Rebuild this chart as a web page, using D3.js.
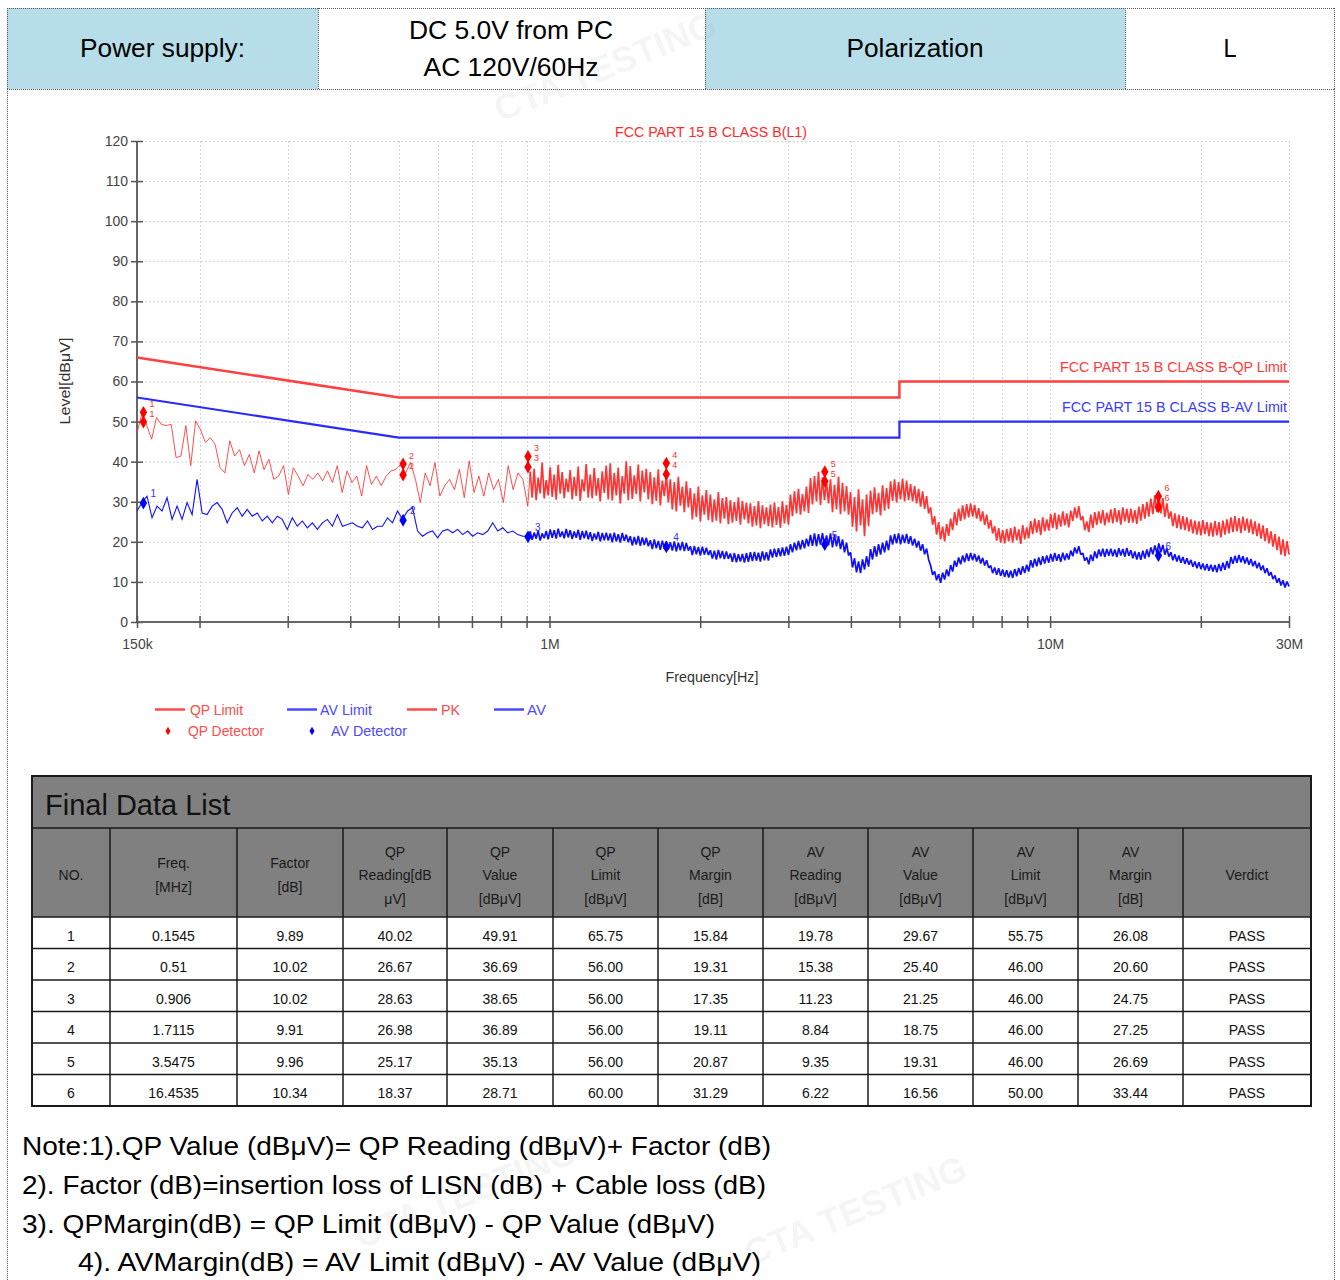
<!DOCTYPE html>
<html><head><meta charset="utf-8">
<script src="https://cdn.jsdelivr.net/npm/d3@7"></script>
<style>
html,body{margin:0;padding:0;background:#fff;}
svg{display:block;}
</style></head>
<body><svg id="c" width="1340" height="1280"></svg>
<script>
// ---------------- DATA ----------------
const headerLeftLabel = "Power supply:";
const headerSupply = ["DC 5.0V from PC", "AC 120V/60Hz"];
const headerPolLabel = "Polarization";
const headerPolValue = "L";

const chartTitle = "FCC PART 15 B CLASS B(L1)";
const yLabel = "Level[dBμV]";
const xLabel = "Frequency[Hz]";
const yTicks = [0,10,20,30,40,50,60,70,80,90,100,110,120];
const xTickFreqs = [0.15e6,0.2e6,0.3e6,0.4e6,0.5e6,0.6e6,0.7e6,0.8e6,0.9e6,1e6,2e6,3e6,4e6,5e6,6e6,7e6,8e6,9e6,10e6,20e6,30e6];
const xTickLabelFreqs = [0.15e6, 1e6, 10e6, 30e6];
const xTickLabelText = ["150k", "1M", "10M", "30M"];

// limit lines (MHz, dBμV)
const limitFreqMHz = [0.15, 0.5, 5, 5, 30];
const qpLimitLevel = [66, 56, 56, 60, 60];
const avLimitLevel = [56, 46, 46, 50, 50];
const qpLimitLabel = "FCC PART 15 B CLASS B-QP Limit";
const avLimitLabel = "FCC PART 15 B CLASS B-AV Limit";

// sweep segments (MHz)
const sparseStartMHz = 0.15, sparseStopMHz = 0.905;
const denseStartMHz = 0.915, denseStopMHz = 30;

const pkSparse = [47.2,52,49,45.6,51,49.3,49,49.3,41,41.4,
49,39,50.2,48,44.8,46,44.3,38.5,37.2,45.2,
41.4,43,39,41.8,37.2,42.7,38,40.6,35.6,36.4,
39,31.8,38.5,36.4,34,36.8,35.6,37.2,35.2,37.7,
34.8,39,32.3,37.7,34.8,36.4,31.4,39,34.3,36.4,
34,36.4,37.7,38.1,39.3,37.2,39.8,35.6,29.8,37.2,
34,39.8,31.4,34,35.6,33,38.1,31,40.2,32.3,
36.4,31.4,37.2,33,35.6,29.8,39,33,37.2,35.6,28.9];

const avSparse = [27.7,29.8,31.4,26,28.9,27.7,31,25.6,28.9,25.6,
29.8,26.8,35.6,27.2,26.8,28.9,29.8,28.1,24.75,27.2,
28.5,26.4,28.1,26.4,27.2,25.2,26.4,24.75,26.4,25.6,
23.1,26,23.9,25.2,23.5,24.75,23.1,24.75,25.6,23.9,
26.8,23.9,24.3,24.75,23.9,23.5,25.2,23.1,23.9,23.9,
26,24.75,27.7,25.6,27.7,28.5,22.7,21.4,22.25,22.7,
21,22.7,23.1,22.25,23.1,21.8,22.7,21.4,22.25,21.8,
22.7,24.75,22.7,23.5,22.25,22.7,21.8,21.4,21.4];

const pkDense = [
37.5,31,38.2,30.4,36,32.1,39.8,30.8,35.4,31.6,
38.6,31.2,36.8,30.5,39.2,32,37.4,30.9,35.8,32.4,
37.9,30.6,36.2,31.4,38.8,30.2,35.6,32.6,39.4,31,
36.8,30.8,38.4,31.5,35.9,30.1,37.6,32.2,39,30.6,
39.6,30.3,37.2,31.6,38.5,29.6,36.4,32,40.1,30.4,
38.9,30.7,36.6,31.9,39.3,30.1,37.8,32.3,38.2,30.6,
37.4,29.4,36.1,30.2,38.1,29.1,35.3,31.4,36.9,29.8,
35.6,28.1,34.9,27.6,36.2,29,33.8,27.4,35.1,28.6,
33.4,25.6,32.1,26.2,33.8,25.1,31.6,26.8,32.9,25.4,
31.8,24.9,30.6,25.3,32.4,24.6,30.9,25.8,31.2,24.4,
30.4,24.8,29.9,25.2,31.1,24.3,30.2,25.6,29.7,24.6,
29.6,23.8,28.9,24.1,30.2,23.4,29.1,24.4,28.6,23.9,
29.3,23.6,29.8,24.2,28.7,23.5,30.1,24.6,29.2,24.3,
31.8,26.4,32.6,27.1,33.2,26.8,31.9,27.6,33.8,27.2,
35.9,29.3,36.4,30.1,37.5,29.2,36.1,30.4,35.2,29.6,
35.6,27.4,34.2,28.1,36.3,26.9,34.7,27.6,33.9,26.8,
32.4,23.8,31.2,22.6,33.1,24.1,30.6,21.4,31.8,23.9,
32.8,26.9,33.6,27.4,32.2,26.6,34.1,27.8,33.4,28.2,
35.1,30.2,35.6,29.8,34.9,30.6,35.8,30.1,35.3,30.4,
34.4,30.1,33.9,29.6,33.2,28.8,32.6,28.2,31.4,27.1,
28.6,24.3,26.4,21.8,24.9,20.6,23.8,20.1,24.4,21.5,
25.8,22.9,27.4,24.1,28.3,25.2,29.1,25.6,29.4,26.1,
29.6,26.3,29.2,25.8,28.4,25.1,27.6,24.2,26.8,23.3,
25.4,22.1,23.9,20.3,23.4,19.8,22.9,19.6,23.2,20.1,
23.4,19.8,23.8,20.4,23.1,19.5,24.2,20.6,23.6,20.9,
25.2,21.9,25.8,22.3,25.4,21.7,26.1,22.6,25.6,22.8,
26.9,23.4,27.2,23.1,26.8,23.8,27.6,24.1,27.1,23.6,
27.8,25.2,28.6,25.9,28.9,25.4,26.4,22.9,25.1,22.4,
26.8,23.4,27.4,24.2,27.6,24.6,27.9,24.1,27.3,24.8,
28.1,24.6,28.4,24.9,27.9,24.3,28.6,25.1,28.2,24.7,
28.3,24.8,27.9,24.5,28.8,25.3,29.4,25.8,29.9,26.3,
30.8,26.9,31.6,27.4,32.2,27.1,30.9,26.2,29.6,25.8,
27.6,23.9,27.1,23.4,26.8,23.1,26.4,22.9,26.1,22.6,
25.6,22.1,25.3,21.8,25.1,21.6,25.4,21.9,24.9,21.4,
24.8,21.3,25.2,21.6,24.9,21.1,25.3,21.8,25.6,22.1,
26.1,22.4,26.4,22.6,25.9,22.2,26.3,22.8,25.8,22.3,
25.6,21.9,25.1,21.4,24.6,20.8,24.1,20.2,23.4,19.6,
22.6,18.8,21.9,17.9,21.3,16.8,20.6,16.4,20.2,16.9];

const avDense = [
22.6,20.5,22.3,20.8,22.8,20.3,22.1,20.9,22.7,20.6,
23.1,21,22.9,20.8,23.3,21.2,22.6,20.9,23.2,21.1,
22.9,20.7,22.6,21,23,20.5,22.7,20.9,22.8,20.6,
22.4,20.2,22.1,20.6,22.5,20.1,22.2,20.4,22.3,20.3,
22.1,19.9,22.3,20.1,21.9,19.8,22.2,20.2,21.8,19.9,
21.4,19.1,21.2,19.3,21.5,19,21.1,19.2,21,18.9,
20.4,18.2,20.6,18.4,20.2,18,20.3,18.3,20.1,18.1,
19.9,17.8,20.1,17.6,19.8,17.9,20,17.7,19.7,17.8,
18.9,16.7,19,16.9,18.7,16.6,18.8,16.8,18.5,16.7,
17.9,15.8,17.8,15.6,18,15.9,17.7,15.7,17.6,15.8,
17.1,15,17.2,14.9,16.9,15.1,17,14.8,17.2,15,
17.4,15.2,17.5,15.3,17.3,15.1,17.6,15.4,17.4,15.3,
18.1,16.1,18.3,16.2,18.4,16.4,18.6,16.5,18.8,16.7,
19.4,17.4,19.8,17.9,20.2,18.1,20.5,18.4,20.8,18.9,
21.7,19,22.1,18.9,21.9,19.3,22.2,18.8,21.6,19.1,
22.1,18.6,21.8,18.9,21.4,18.2,20.6,17.4,19.8,16.6,
17.4,13.6,15.9,12.4,15.1,12.2,15.6,13.1,16.4,13.8,
18.2,15.6,18.9,16.3,19.4,16.8,19.8,17.4,20.3,17.9,
21.6,19.3,21.9,19.6,22.1,19.4,21.8,19.7,22,19.5,
21.4,19.1,20.8,18.6,20.2,17.8,19.4,16.9,18.3,15.6,
14.1,11.8,12.6,10.4,11.9,9.8,12.3,10.6,13.1,11.4,
14.2,12.6,15.3,13.8,16.1,14.4,16.6,14.9,17.1,15.2,
17.2,15.4,17,15.1,16.6,14.6,16,14.1,15.4,13.5,
14.1,12.2,13.6,11.8,13.4,11.5,13.1,11.2,12.9,11.1,
12.8,11,13.2,11.4,13.5,11.8,13.9,12.2,14.3,12.6,
15.4,13.6,15.8,13.9,16.1,14.2,16.4,14.6,16.6,14.8,
17,15.1,17.2,15.3,16.9,15,17.3,15.4,17.1,15.6,
17.8,16.4,18.6,17.1,18.9,16.8,17.2,15.3,16.1,14.4,
16.8,15.2,17.6,15.9,18.1,16.4,18.3,16.2,18.2,16.5,
18.3,16.4,18.1,16.2,18.4,16.6,18.2,16.3,18.5,16.5,
17.9,15.9,17.6,15.6,17.4,15.5,17.8,15.8,18.1,16.2,
18.6,16.9,19.1,17.2,19.6,17.4,19.2,16.8,18.4,16.3,
17.4,15.4,16.9,15.1,16.6,14.8,16.2,14.5,15.9,14.3,
15.5,13.8,15.1,13.4,14.9,13.2,14.6,12.9,14.5,12.8,
14.3,12.6,14.2,12.4,14.5,12.7,14.8,13,15.2,13.4,
16.2,14.5,16.5,14.8,16.7,14.9,16.4,14.6,16.1,14.3,
15.7,13.9,15.2,13.4,14.8,12.9,14.1,12.2,13.4,11.6,
12.4,10.7,11.6,9.8,10.9,9.1,10.4,8.6,10.1,8.9];

// final data list
const tableTitle = "Final Data List";
const tableHeaders = [["NO."],["Freq.","[MHz]"],["Factor","[dB]"],["QP","Reading[dB","μV]"],["QP","Value","[dBμV]"],["QP","Limit","[dBμV]"],["QP","Margin","[dB]"],["AV","Reading","[dBμV]"],["AV","Value","[dBμV]"],["AV","Limit","[dBμV]"],["AV","Margin","[dB]"],["Verdict"]];
const markerNo = [1,2,3,4,5,6];
const markerFreqText = ["0.1545","0.51","0.906","1.7115","3.5475","16.4535"];
const markerFreqMHz = [0.1545,0.51,0.906,1.7115,3.5475,16.4535];
const factorDb = [9.89,10.02,10.02,9.91,9.96,10.34];
const qpReading = [40.02,26.67,28.63,26.98,25.17,18.37];
const qpValue = [49.91,36.69,38.65,36.89,35.13,28.71];
const qpLimit = [65.75,56.00,56.00,56.00,56.00,60.00];
const qpMargin = [15.84,19.31,17.35,19.11,20.87,31.29];
const avReading = [19.78,15.38,11.23,8.84,9.35,6.22];
const avValue = [29.67,25.40,21.25,18.75,19.31,16.56];
const avLimit = [55.75,46.00,46.00,46.00,46.00,50.00];
const avMargin = [26.08,20.60,24.75,27.25,26.69,33.44];
const verdict = ["PASS","PASS","PASS","PASS","PASS","PASS"];
const pkMarkerLevel = [52.3,39.4,41.3,39.6,37.5,31.4];

const legendLineItems = ["QP Limit","AV Limit","PK","AV"];
const legendPointItems = ["QP Detector","AV Detector"];

const notes = ["Note:1).QP Value (dBμV)= QP Reading (dBμV)+ Factor (dB)",
"2). Factor (dB)=insertion loss of LISN (dB) + Cable loss (dB)",
"3). QPMargin(dB) = QP Limit (dBμV) - QP Value (dBμV)",
"4). AVMargin(dB) = AV Limit (dBμV) - AV Value (dBμV)"];
const watermark = "CTA TESTING";

// ---------------- DRAW ----------------
const svg = d3.select("#c");
const FONT = "'Liberation Sans', Arial, Helvetica, sans-serif";
const NARROW = "'Liberation Sans Narrow','Arial Narrow','Liberation Sans',Arial,sans-serif";
const RED = "#ff2b2b";

function fitText(sel, w){ return sel.attr("textLength", w).attr("lengthAdjust","spacingAndGlyphs"); }

function dline(x1,y1,x2,y2){
  svg.append("line").attr("x1",x1).attr("y1",y1).attr("x2",x2).attr("y2",y2)
    .attr("stroke","#555").attr("stroke-width",1).attr("stroke-dasharray","1,1");
}

// header row
const hdrTop = 8, hdrBot = 89;
const hdrCells = [[7,318,"#b7dde8"],[318,705,"#ffffff"],[705,1125,"#b7dde8"],[1125,1335,"#ffffff"]];
hdrCells.forEach(c=>{
  svg.append("rect").attr("x",c[0]).attr("y",hdrTop).attr("width",c[1]-c[0]).attr("height",hdrBot-hdrTop).attr("fill",c[2]);
});
dline(7,hdrTop+0.5,1335,hdrTop+0.5);
dline(7,hdrBot+0.5,1335,hdrBot+0.5);
[7.5,318.5,705.5,1125.5,1334.5].forEach(xx=>dline(xx,hdrTop,xx,hdrBot));
dline(7.5,hdrBot,7.5,1280);
dline(1334.5,hdrBot,1334.5,1280);

// faint watermarks (kept fully inside the page)
const wm = svg.append("g");
[[610,78,-22],[470,1205,-22],[860,1222,-22]].forEach(p=>{
  wm.append("text").attr("transform",`translate(${p[0]},${p[1]}) rotate(${p[2]})`).attr("text-anchor","middle")
    .attr("font-family",FONT).attr("font-weight","bold").attr("font-size",36).attr("fill","#999").attr("fill-opacity",0.1).text(watermark);
});

const hdrText = (t,x,yy,w)=> fitText(svg.append("text").attr("x",x).attr("y",yy).attr("text-anchor","middle")
  .attr("font-family",FONT).attr("font-size",25).attr("fill","#000").text(t), w);
hdrText(headerLeftLabel,162.5,57,165);
hdrText(headerSupply[0],511,39,204);
hdrText(headerSupply[1],511,76,175);
hdrText(headerPolLabel,915,57,137);
hdrText(headerPolValue,1230,57,13);

// chart
const x = d3.scaleLog().domain([0.15e6,30e6]).range([137,1289]);
const y = d3.scaleLinear().domain([0,120]).range([622,141]);
const g = svg.append("g");

// grid
g.append("g").selectAll("line").data(yTicks.filter(v=>v>0)).join("line")
  .attr("x1",137).attr("x2",1289).attr("y1",d=>y(d)+0.5).attr("y2",d=>y(d)+0.5)
  .attr("stroke","#d4d4d4").attr("stroke-dasharray","2,2");
g.append("g").selectAll("line").data(xTickFreqs.slice(1)).join("line")
  .attr("x1",d=>Math.round(x(d))+0.5).attr("x2",d=>Math.round(x(d))+0.5).attr("y1",141).attr("y2",622)
  .attr("stroke","#d4d4d4").attr("stroke-dasharray","2,2");

// axes
const yAxis = g.append("g").attr("transform","translate(137,0)")
  .call(d3.axisLeft(y).tickValues(yTicks).tickSize(6).tickPadding(3));
yAxis.selectAll(".tick line").attr("x1",6).attr("stroke","#555").attr("stroke-width",1.5);
yAxis.select(".domain").attr("stroke","#666").attr("stroke-width",2).attr("d","M0,141V622");
yAxis.selectAll("text").attr("font-family",NARROW).attr("font-size",14).attr("fill","#444");

const labelMap = new Map(xTickLabelFreqs.map((f,i)=>[f,xTickLabelText[i]]));
const xAxis = g.append("g").attr("transform","translate(0,622)")
  .call(d3.axisBottom(x).tickValues(xTickFreqs).tickSize(6).tickPadding(11).tickFormat(d=>labelMap.get(d)||""));
xAxis.selectAll(".tick line").attr("y1",-6).attr("stroke","#555").attr("stroke-width",1.5);
xAxis.select(".domain").attr("stroke","#666").attr("stroke-width",2).attr("d","M137,0H1289");
xAxis.selectAll("text").attr("font-family",NARROW).attr("font-size",14).attr("fill","#444");

// axis titles
fitText(g.append("text").attr("transform","translate(70,381) rotate(-90)").attr("text-anchor","middle")
  .attr("font-family",NARROW).attr("font-size",14).attr("fill","#333").text(yLabel),87);
fitText(g.append("text").attr("x",712).attr("y",682).attr("text-anchor","middle")
  .attr("font-family",NARROW).attr("font-size",14).attr("fill","#333").text(xLabel),93);
fitText(g.append("text").attr("x",711).attr("y",137).attr("text-anchor","middle")
  .attr("font-family",NARROW).attr("font-size",14).attr("fill",RED).text(chartTitle),192);

// limit lines
const line = d3.line().x(d=>x(d.f)).y(d=>y(d.v));
const qpLim = limitFreqMHz.map((f,i)=>({f:f*1e6,v:qpLimitLevel[i]}));
const avLim = limitFreqMHz.map((f,i)=>({f:f*1e6,v:avLimitLevel[i]}));
g.append("path").attr("d",line(qpLim)).attr("fill","none").attr("stroke","#ff4040").attr("stroke-width",2.5);
g.append("path").attr("d",line(avLim)).attr("fill","none").attr("stroke","#2a2aff").attr("stroke-width",2.2);
fitText(g.append("text").attr("x",1287).attr("y",372).attr("text-anchor","end")
  .attr("font-family",NARROW).attr("font-size",15).attr("fill","#ff3a3a").text(qpLimitLabel),227);
fitText(g.append("text").attr("x",1287).attr("y",412).attr("text-anchor","end")
  .attr("font-family",NARROW).attr("font-size",15).attr("fill","#3a3aff").text(avLimitLabel),225);

// traces
function sweep(vals, f0, f1){
  const n = vals.length;
  return vals.map((v,i)=>({f: f0*1e6*Math.pow(f1/f0, i/(n-1)), v}));
}
const pkS = sweep(pkSparse, sparseStartMHz, sparseStopMHz), pkD = sweep(pkDense, denseStartMHz, denseStopMHz);
const avS = sweep(avSparse, sparseStartMHz, sparseStopMHz), avD = sweep(avDense, denseStartMHz, denseStopMHz);
g.append("path").attr("d",line(pkS.concat([pkD[0]]))).attr("fill","none").attr("stroke","#ff3030").attr("stroke-width",1).attr("stroke-opacity",0.85);
g.append("path").attr("d",line(pkD)).attr("fill","none").attr("stroke","#ff1f1f").attr("stroke-width",1.7).attr("stroke-opacity",0.9).attr("stroke-linejoin","bevel");
g.append("path").attr("d",line(avS.concat([avD[0]]))).attr("fill","none").attr("stroke","#1010ff").attr("stroke-width",1.1);
g.append("path").attr("d",line(avD)).attr("fill","none").attr("stroke","#0f0fff").attr("stroke-width",1.7).attr("stroke-linejoin","bevel");

// markers
const diamond = d3.symbol().type(d3.symbolDiamond).size(48);
markerNo.forEach((n,i)=>{
  const mx = x(markerFreqMHz[i]*1e6);
  const yq = y(qpValue[i]), yp = y(pkMarkerLevel[i]), ya = y(avValue[i]);
  g.append("line").attr("x1",mx).attr("x2",mx).attr("y1",yp).attr("y2",yq).attr("stroke","#ff0000").attr("stroke-width",1.5);
  g.append("path").attr("d",diamond).attr("transform",`translate(${mx},${yp})`).attr("fill","#ff0000");
  g.append("path").attr("d",diamond).attr("transform",`translate(${mx},${yq})`).attr("fill","#ff0000");
  g.append("text").attr("x",mx+6).attr("y",yp-5).attr("font-family",NARROW).attr("font-size",9).attr("fill","#ff3030").text(n);
  g.append("text").attr("x",mx+6).attr("y",yp+5).attr("font-family",NARROW).attr("font-size",9).attr("fill","#ff3030").text(n);
  g.append("path").attr("d",diamond).attr("transform",`translate(${mx},${ya})`).attr("fill","#0000ff");
  g.append("text").attr("x",mx+7).attr("y",ya-6).attr("font-family",NARROW).attr("font-size",10).attr("fill","#3030ff").text(n);
});

// legend
const legLineX = [155,287,407,494], legTextX = [190,320,441,527], legW = [53,52,19,19];
const legCol = ["#ff4a4a","#4a4aff","#ff4a4a","#4a4aff"];
legendLineItems.forEach((t,i)=>{
  g.append("line").attr("x1",legLineX[i]).attr("x2",legLineX[i]+30).attr("y1",709.5).attr("y2",709.5)
    .attr("stroke",legCol[i]).attr("stroke-width",2.5);
  fitText(g.append("text").attr("x",legTextX[i]).attr("y",714.5).attr("font-family",NARROW).attr("font-size",14)
    .attr("fill",legCol[i]).text(t),legW[i]);
});
const legPtX = [168,312], legPtTX = [188,331], legPtCol = ["#ff0000","#0000ff"], legPtTCol=["#ff4a4a","#4a4aff"];
legendPointItems.forEach((t,i)=>{
  g.append("path").attr("d",d3.symbol().type(d3.symbolDiamond).size(22)).attr("transform",`translate(${legPtX[i]},731)`).attr("fill",legPtCol[i]);
  fitText(g.append("text").attr("x",legPtTX[i]).attr("y",736).attr("font-family",NARROW).attr("font-size",14)
    .attr("fill",legPtTCol[i]).text(t),76);
});

// table
const cols = [32,110,237,343,447,553,658,763,868,973,1078,1183,1311];
const tTop = 776, tHead = 828, tRows = 917, tBot = 1106;
const rowH = (tBot - tRows)/markerNo.length;
const tg = svg.append("g");
tg.append("rect").attr("x",32).attr("y",tRows).attr("width",1279).attr("height",tBot-tRows).attr("fill","#fff");
tg.append("rect").attr("x",32).attr("y",tTop).attr("width",1279).attr("height",tRows-tTop).attr("fill","#808080");
tg.append("text").attr("x",45).attr("y",815).attr("font-family",FONT).attr("font-size",29).attr("fill","#111").text(tableTitle);
tableHeaders.forEach((lines,c)=>{
  const cx = (cols[c]+cols[c+1])/2;
  const mid = 875, lh = 23.5;
  lines.forEach((t,k)=>{
    const yy = mid + (k-(lines.length-1)/2)*lh + 5;
    tg.append("text").attr("x",cx).attr("y",yy).attr("text-anchor","middle").attr("font-family",FONT)
      .attr("font-size",14).attr("fill","#1a1a1a").text(t);
  });
});
const rowsData = markerNo.map((n,i)=>[String(n), markerFreqText[i], factorDb[i].toFixed(2), qpReading[i].toFixed(2),
  qpValue[i].toFixed(2), qpLimit[i].toFixed(2), qpMargin[i].toFixed(2), avReading[i].toFixed(2), avValue[i].toFixed(2),
  avLimit[i].toFixed(2), avMargin[i].toFixed(2), verdict[i]]);
rowsData.forEach((r,i)=>{
  const yy = tRows + rowH*(i+0.5) + 8;
  r.forEach((t,c)=>{
    tg.append("text").attr("x",(cols[c]+cols[c+1])/2).attr("y",yy).attr("text-anchor","middle")
      .attr("font-family",FONT).attr("font-size",14).attr("fill","#111").text(t);
  });
});
const tl = (x1,y1,x2,y2,w)=>tg.append("line").attr("x1",x1).attr("y1",y1).attr("x2",x2).attr("y2",y2).attr("stroke","#1a1a1a").attr("stroke-width",w||1.5);
tl(32,tHead,1311,tHead);
tl(32,tRows,1311,tRows);
for(let i=1;i<markerNo.length;i++) tl(32,tRows+rowH*i,1311,tRows+rowH*i);
cols.slice(1,-1).forEach(cx=>tl(cx,tHead,cx,tBot));
tg.append("rect").attr("x",32).attr("y",tTop).attr("width",1279).attr("height",tBot-tTop).attr("fill","none").attr("stroke","#1a1a1a").attr("stroke-width",2);

// notes
const noteX = [22,22,22,78], noteW = [749,744,693,683], noteY = [1155,1194,1233,1271];
notes.forEach((t,i)=>{
  fitText(svg.append("text").attr("x",noteX[i]).attr("y",noteY[i]).attr("font-family",FONT).attr("font-size",25)
    .attr("fill","#000").text(t), noteW[i]);
});
</script></body></html>
